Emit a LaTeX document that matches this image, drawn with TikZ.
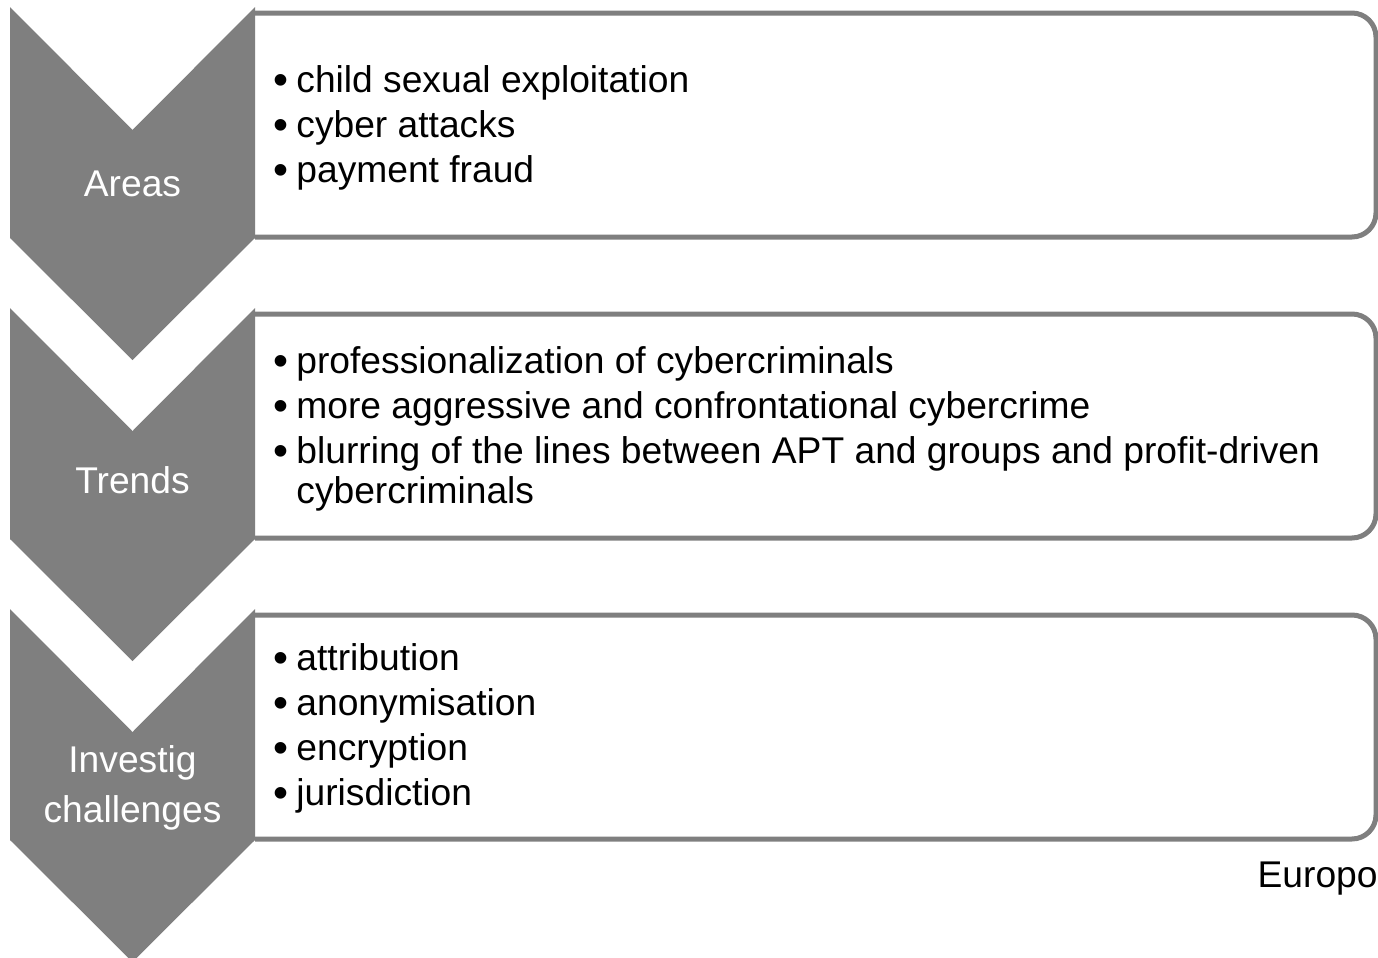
\documentclass[tikz,border=0pt]{standalone}
\usepackage{fontspec}
\setmainfont{Liberation Sans}

\definecolor{grigio}{HTML}{7F7F7F}
\newcommand{\pallino}{\makebox[12.5pt][l]{\hspace{0.8pt}\raisebox{-1pt}{\scalebox{1.15}{\textbullet}}}}

\tikzset{
    riquadro/.style={draw=grigio, line width=2.5pt, fill=white, rounded corners=12pt},
    freccia/.style={fill=grigio},
    etichetta/.style={anchor=base, inner sep=0pt, text=white, font=\fontsize{18.6}{25}\selectfont},
    elenco/.style={anchor=base west, inner sep=0pt, font=\fontsize{18.6}{22.5}\selectfont}
}

\begin{document}
\begin{tikzpicture}[x=0.5pt, y=-0.5pt]
        \useasboundingbox (0,0) rectangle (1378,958);

        %%%%%%%%%% Riquadri %%%%%%%%%%
        \foreach \t in {7,308,609}
            \draw[riquadro] (255,{\t+6}) -- (1376,{\t+6}) -- (1376,{\t+230}) -- (255,{\t+230});

        %%%%%%%%%% Frecce %%%%%%%%%%
        \foreach \t in {7,308,609}
            \fill[freccia] (10,\t) -- (132.5,{\t+123}) -- (255,\t) -- (255,{\t+231})
                -- (132.5,{\t+353}) -- (10,{\t+231}) -- cycle;

        %%%%%%%%%% Etichette %%%%%%%%%%
        \node[etichetta] (areas) at (132.5,196) {Areas};
        \node[etichetta] (trends) at (132.5,493) {Trends};
        \node[etichetta] (challenges) at (132.5,772)
            {\begin{tabular}[t]{@{}c@{}}Investig\\challenges\end{tabular}};

        %%%%%%%%%% Elenchi %%%%%%%%%%
        \node[elenco] (listaareas) at (271,92) {\begin{tabular}[t]{@{}l@{}l@{}}
            \pallino & child sexual exploitation\\
            \pallino & cyber attacks\\
            \pallino & payment fraud
        \end{tabular}};
        \node[elenco] (listatrends) at (271,373) {\begin{tabular}[t]{@{}l@{}l@{}}
            \pallino & professionalization of cybercriminals\\
            \pallino & more aggressive and confrontational cybercrime\\
            \pallino & blurring of the lines between APT and groups and profit-driven\\[-2.5pt]
                     & cybercriminals
        \end{tabular}};
        \node[elenco] (listachallenges) at (271,670) {\begin{tabular}[t]{@{}l@{}l@{}}
            \pallino & attribution\\
            \pallino & anonymisation\\
            \pallino & encryption\\
            \pallino & jurisdiction
        \end{tabular}};

        \node[anchor=base east, inner sep=0pt, font=\fontsize{18.6}{22.5}\selectfont] (fonte) at (1378,887) {Europo};
    \end{tikzpicture}
\end{document}
